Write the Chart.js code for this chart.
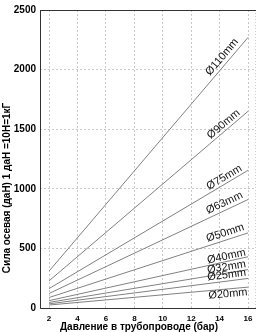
<!DOCTYPE html>
<html><head><meta charset="utf-8">
<script src="https://cdn.jsdelivr.net/npm/chart.js@4"></script>
<style>html,body{margin:0;padding:0;background:#fff}#wrap{width:260px;height:332px}</style>
</head><body><div id="wrap"><canvas id="c" width="260" height="332"></canvas></div>
<script>
// ---- data ----
const pressure = [2, 16];                       // bar
const xTicks = [2, 4, 6, 8, 10, 12, 14, 16];
const yTicks = [0, 500, 1000, 1500, 2000, 2500];
const diameters = ['Ø110mm', 'Ø90mm', 'Ø75mm', 'Ø63mm', 'Ø50mm', 'Ø40mm', 'Ø32mm', 'Ø25mm', 'Ø20mm'];
const force110 = [310, 2270];
const force90  = [228, 1650];
const force75  = [163, 1155];
const force63  = [122, 910];
const force50  = [88, 630];
const force40  = [62, 430];
const force32  = [47, 322];
const force25  = [35, 248];
const force20  = [25, 175];
const xTitle = 'Давление в трубопроводе (бар)';
const yTitle = 'Сила осевая (даН) 1 даН =10Н=1кГ';

const seriesValues = [force110, force90, force75, force63, force50, force40, force32, force25, force20];

const datasets = seriesValues.map((vals, i) => ({
  label: diameters[i],
  data: pressure.map((p, j) => ({ x: p, y: vals[j] })),
  borderColor: '#808080',
  borderWidth: 1,
  pointRadius: 0,
  tension: 0,
  fill: false
}));

const FONT = '"Liberation Sans", Arial, sans-serif';

const labelOffsets = [7, 6, 6, 7, 7, 5, 6, 6, -5];
const lineLabels = {
  id: 'lineLabels',
  afterDatasetsDraw(chart) {
    const { ctx, scales: { x, y } } = chart;
    ctx.save();
    ctx.font = '11px ' + FONT;
    ctx.fillStyle = '#111';
    ctx.textAlign = 'center';
    ctx.textBaseline = 'middle';
    chart.data.datasets.forEach((ds, i) => {
      const a = ds.data[0], b = ds.data[ds.data.length - 1];
      const x0 = x.getPixelForValue(a.x), y0 = y.getPixelForValue(a.y);
      const x1 = x.getPixelForValue(b.x), y1 = y.getPixelForValue(b.y);
      const ang = Math.atan2(y1 - y0, x1 - x0);
      const t = (14.55 - a.x) / (b.x - a.x);
      const px = x0 + t * (x1 - x0), py = y0 + t * (y1 - y0);
      const off = labelOffsets[i];
      const nx = Math.sin(ang), ny = -Math.cos(ang);
      ctx.save();
      ctx.translate(px + nx * off, py + ny * off);
      ctx.rotate(ang);
      ctx.fillText(ds.label, 0, 0);
      ctx.restore();
    });
    ctx.restore();
  }
};

const frame = {
  id: 'frame',
  beforeDatasetsDraw(chart) {
    const { ctx, chartArea: ca } = chart;
    ctx.save();
    ctx.strokeStyle = '#cfcfcf';
    ctx.lineWidth = 1;
    ctx.setLineDash([1, 2]);
    ctx.beginPath();
    ctx.moveTo(ca.right - 0.5, ca.top);
    ctx.lineTo(ca.right - 0.5, ca.bottom);
    ctx.stroke();
    ctx.setLineDash([]);
    ctx.strokeStyle = '#333';
    ctx.beginPath();
    ctx.moveTo(ca.left + 0.5, ca.top + 0.5);
    ctx.lineTo(ca.right, ca.top + 0.5);
    ctx.moveTo(ca.left + 0.5, ca.top);
    ctx.lineTo(ca.left + 0.5, ca.bottom + 0.5);
    ctx.lineTo(ca.right, ca.bottom + 0.5);
    ctx.stroke();
    ctx.restore();
  },
  afterDraw(chart) {
    const { ctx } = chart;
    ctx.save();
    ctx.fillStyle = '#000';
    ctx.font = 'bold 10px ' + FONT;
    ctx.textAlign = 'center';
    ctx.textBaseline = 'middle';
    ctx.fillText(xTitle, 139, 327);
    ctx.translate(7.5, 188);
    ctx.rotate(-Math.PI / 2);
    ctx.fillText(yTitle, 0, 0);
    ctx.restore();
  }
};

new Chart(document.getElementById('c'), {
  type: 'line',
  data: { datasets },
  options: {
    responsive: false,
    animation: false,
    devicePixelRatio: 1,
    layout: { padding: { top: 5, right: 4, left: 0, bottom: 0 } },
    plugins: { legend: { display: false }, tooltip: { enabled: false } },
    scales: {
      x: {
        type: 'linear',
        min: 1.36,
        max: 16.56,
        afterBuildTicks: s => { s.ticks = xTicks.map(v => ({ value: v })); },
        afterFit: s => { s.height = 24; },
        grid: { color: '#c8c8c8', drawTicks: false },
        border: { display: false, dash: [2, 2] },
        ticks: { color: '#000', font: { family: FONT, size: 8, weight: 'bold' }, padding: 6, maxRotation: 0, callback: v => String(v) }
      },
      y: {
        type: 'linear',
        min: 0,
        max: 2500,
        afterBuildTicks: s => { s.ticks = yTicks.map(v => ({ value: v })); },
        afterFit: s => { s.width = 40; },
        grid: { color: '#c8c8c8', drawTicks: false },
        border: { display: false, dash: [2, 2] },
        ticks: { color: '#000', font: { family: FONT, size: 10, weight: 'bold' }, padding: 4, callback: v => String(v) }
      }
    }
  },
  plugins: [frame, lineLabels]
});
</script>
</body></html>
